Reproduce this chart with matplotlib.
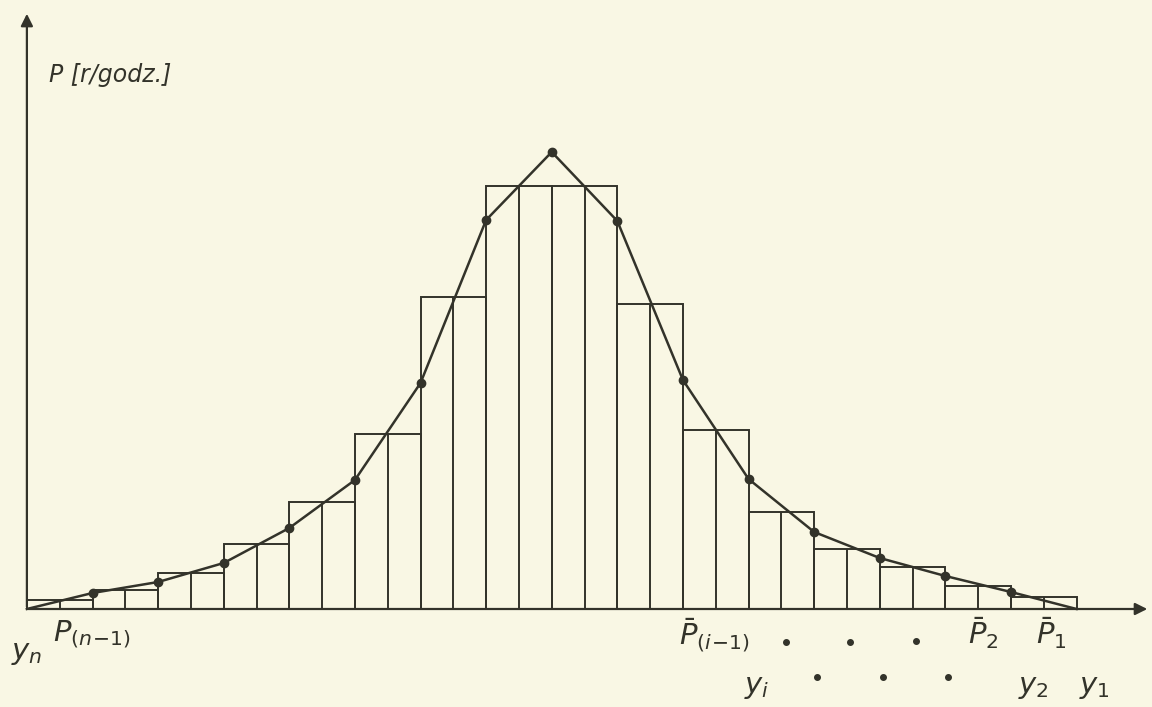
import numpy as np
import matplotlib
matplotlib.use('Agg')
import matplotlib.pyplot as plt

# class edges (16 equal classes) and bar heights
edges = np.arange(17)
heights = [0.9, 1.9, 3.6, 6.5, 10.7, 17.5, 31.2, 42.3,
           42.3, 30.5, 17.9, 9.7, 6.0, 4.2, 2.3, 1.2]
# polygon through the class boundaries
poly_y = [0.0, 1.6, 2.7, 4.6, 8.1, 12.9, 22.6, 38.9, 45.7,
          38.8, 22.9, 13.0, 7.7, 5.1, 3.3, 1.7, 0.0]

paper = '#f9f7e4'
ink = '#33332a'

plt.rcParams['mathtext.fontset'] = 'dejavusans'
plt.rcParams['font.family'] = ['DejaVu Sans']

fig = plt.figure(figsize=(11.52, 7.07), dpi=100, facecolor=paper)
ax = fig.add_axes([0, 0, 1, 1])
ax.set_facecolor(paper)
ax.set_xlim(-0.41, 17.15)
ax.set_ylim(-9.8, 60.9)
ax.axis('off')

# histogram: each class drawn as a box split in half
left = edges[:-1]
ax.bar(left, heights, width=1.0, align='edge', fill=False,
       edgecolor=ink, linewidth=1.4)
mids = left + 0.5
ax.vlines(mids, 0, heights, color=ink, linewidth=1.4)

# polygon with points
ax.plot(edges, poly_y, color=ink, linewidth=1.8)
ax.plot(edges[1:-1], poly_y[1:-1], 'o', color=ink, markersize=6)

# axes with arrows
arrow = dict(arrowstyle='-|>', color=ink, lw=1.6, mutation_scale=18)
ax.annotate('', xy=(0, 59.8), xytext=(0, -0.05), arrowprops=arrow)
ax.annotate('', xy=(17.12, 0), xytext=(-0.02, 0), arrowprops=arrow)

ax.text(0.33, 53.4, 'P [r/godz.]', fontsize=17, style='italic',
        color=ink, va='center')

lab = dict(color=ink, fontsize=21, ha='center', va='center')
ax.text(-0.0, -4.4, r'$y_n$', **lab)
ax.text(1.0, -2.5, r'$P_{(n\!-\!1)}$', **lab)
ax.text(10.48, -2.6, r'$\bar{P}_{(i\!-\!1)}$', **lab)
ax.text(11.12, -7.8, r'$y_i$', **lab)
ax.text(14.58, -2.4, r'$\bar{P}_2$', **lab)
ax.text(15.62, -2.4, r'$\bar{P}_1$', **lab)
ax.text(15.35, -7.8, r'$y_2$', **lab)
ax.text(16.27, -7.8, r'$y_1$', **lab)

ax.plot([11.57, 12.55, 13.55], [-3.3, -3.3, -3.2], 'o', color=ink, markersize=4)
ax.plot([12.05, 13.05, 14.04], [-6.8, -6.8, -6.8], 'o', color=ink, markersize=4)

fig.savefig('out.png', dpi=100, facecolor=paper)
